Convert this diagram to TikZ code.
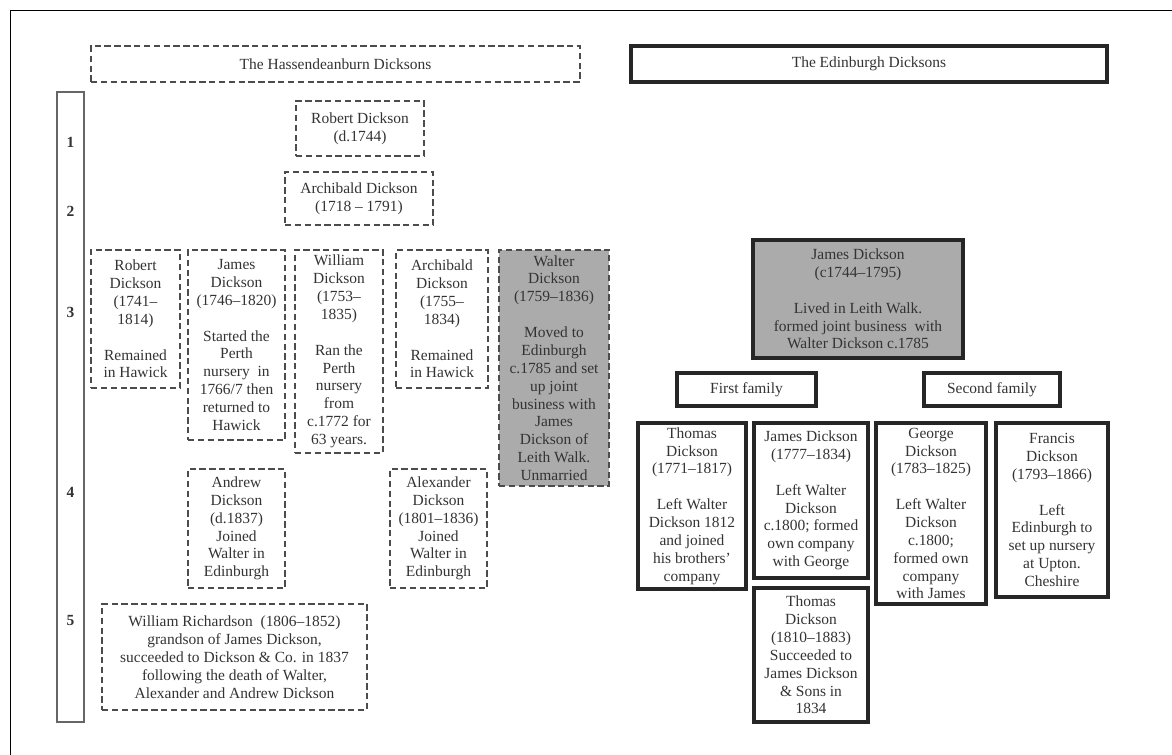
\documentclass[tikz,border=0pt]{standalone}
\usepackage{fontspec}
\setmainfont{Liberation Serif}
\usepackage{tikz}
\usepackage{xcolor}

\newcommand{\pxu}{0.025cm}

\begin{document}
\begin{tikzpicture}[x=0.025cm, y=-0.025cm,
  every node/.style={font=\fontsize{11}{12.7}\selectfont, text=black!80},
  dbox/.style={draw=black!70, dash pattern=on 4.5pt off 2.5pt, line width=0.9pt, inner sep=0pt, align=center},
  sbox/.style={draw=black!85, line width=2.2pt, inner sep=0pt, align=center},
  shaded/.style={fill=black!33},
  gen/.style={font=\fontsize{11}{12.7}\selectfont\bfseries}]
	\useasboundingbox (0,0) rectangle (1172,755);
	\draw[line width=0.7pt] (10,755) -- (10,10) -- (1172,10);
	% headers
	\node[dbox, minimum width=489*\pxu, minimum height=36*\pxu] (hass) at (335.5,64) {The Hassendeanburn Dicksons};
	\node[sbox, minimum width=476*\pxu, minimum height=36*\pxu] (edin) at (869,64) {The Edinburgh Dicksons};
	% generations
	\draw[black!60, line width=0.8pt] (57,92) rectangle (84,722);
	\node[gen] (g1) at (70.5,142) {1};
	\node[gen] (g2) at (70.5,211) {2};
	\node[gen] (g3) at (70.5,312) {3};
	\node[gen] (g4) at (70.5,492) {4};
	\node[gen] (g5) at (70.5,621) {5};
	% Hassendeanburn
	\node[dbox, minimum width=128*\pxu, minimum height=55*\pxu] (robert1) at (360,128.5) {Robert Dickson\\(d.1744)};
	\node[dbox, minimum width=148*\pxu, minimum height=53*\pxu] (archibald1) at (359,198.5) {Archibald Dickson\\(1718 – 1791)};
	\node[dbox, minimum width=89*\pxu, minimum height=138*\pxu] (robert2) at (135.5,319) {Robert\\Dickson\\(1741–\\1814)\\[12.7pt]Remained\\in Hawick};
	\node[dbox, minimum width=97*\pxu, minimum height=190*\pxu] (james2) at (236.5,345) {James\\Dickson\\(1746–1820)\\[12.7pt]Started the\\Perth\\nursery\ \ in\\1766/7 then\\returned to\\Hawick};
	\node[dbox, minimum width=88*\pxu, minimum height=203*\pxu] (william2) at (339,351.5) {William\\Dickson\\(1753–\\1835)\\[12.7pt]Ran the\\Perth\\nursery\\from\\c.1772 for\\63 years.};
	\node[dbox, minimum width=92*\pxu, minimum height=138*\pxu] (archibald2) at (442,319) {Archibald\\Dickson\\(1755–\\1834)\\[12.7pt]Remained\\in Hawick};
	\node[dbox, shaded, minimum width=110*\pxu, minimum height=236*\pxu] (walter2) at (554,368) {Walter\\Dickson\\(1759–1836)\\[12.7pt]Moved to\\Edinburgh\\c.1785 and set\\up joint\\business with\\James\\Dickson of\\Leith Walk.\\Unmarried};
	\node[dbox, minimum width=97*\pxu, minimum height=119*\pxu] (andrew3) at (236.5,528.5) {Andrew\\Dickson\\(d.1837)\\Joined\\Walter in\\Edinburgh};
	\node[dbox, minimum width=97*\pxu, minimum height=119*\pxu] (alexander3) at (438.5,528.5) {Alexander\\Dickson\\(1801–1836)\\Joined\\Walter in\\Edinburgh};
	\node[dbox, minimum width=265*\pxu, minimum height=106*\pxu] (richardson) at (234.5,657) {William Richardson\ \ (1806–1852)\\grandson of James Dickson,\\succeeded to Dickson \& Co. in 1837\\following the death of Walter,\\Alexander and Andrew Dickson};
	% Edinburgh
	\node[sbox, shaded, minimum width=210*\pxu, minimum height=118*\pxu] (jamesE) at (858,299) {James Dickson\\(c1744–1795)\\[12.7pt]Lived in Leith Walk.\\formed joint business\ \ with\\Walter Dickson c.1785};
	\node[sbox, minimum width=139*\pxu, minimum height=33*\pxu] (first) at (746.5,389.5) {First family};
	\node[sbox, minimum width=136*\pxu, minimum height=33*\pxu] (second) at (992,389.5) {Second family};
	\node[sbox, minimum width=108*\pxu, minimum height=166*\pxu] (thomasF) at (692,506) {Thomas\\Dickson\\(1771–1817)\\[12.7pt]Left Walter\\Dickson 1812\\and joined\\his brothers'\\company};
	\node[sbox, minimum width=114*\pxu, minimum height=155*\pxu] (jamesF) at (811,500.5) {James Dickson\\(1777–1834)\\[12.7pt]Left Walter\\Dickson\\c.1800; formed\\own company\\with George};
	\node[sbox, minimum width=114*\pxu, minimum height=134*\pxu] (thomasG) at (811,655) {Thomas\\Dickson\\(1810–1883)\\Succeeded to\\James Dickson\\\& Sons in\\1834};
	\node[sbox, minimum width=110*\pxu, minimum height=181*\pxu] (georgeF) at (931,513.5) {George\\Dickson\\(1783–1825)\\[12.7pt]Left Walter\\Dickson\\c.1800;\\formed own\\company\\with James};
	\node[sbox, minimum width=112*\pxu, minimum height=174*\pxu] (francisF) at (1052,510) {Francis\\Dickson\\(1793–1866)\\[12.7pt]Left\\Edinburgh to\\set up nursery\\at Upton.\\Cheshire};
\end{tikzpicture}
\end{document}
